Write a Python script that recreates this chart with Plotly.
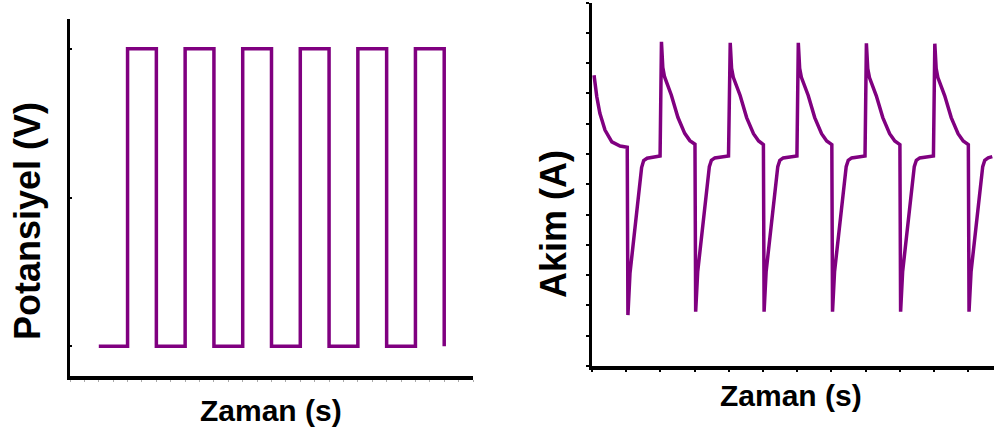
import plotly.graph_objects as go

# ---- Left panel: potential square wave (arbitrary units) ----
pot_time = [2, 4, 4, 6, 6, 8, 8, 10, 10, 12, 12, 14, 14, 16, 16, 18, 18, 20, 20, 22, 22, 24, 24, 26, 26]
pot_value = [0, 0, 2, 2, 0, 0, 2, 2, 0, 0, 2, 2, 0, 0, 2, 2, 0, 0, 2, 2, 0, 0, 2, 2, 0]

# ---- Right panel: current response (arbitrary units) ----
cur_time = [
    0.06, 0.14, 0.23, 0.38, 0.58, 0.82, 1.03,
    1.05, 1.11, 1.45, 1.51, 1.61, 1.99,
    2.03, 2.07, 2.12, 2.32, 2.51, 2.71, 2.86, 3.01,
    3.03, 3.09, 3.43, 3.49, 3.59, 3.99,
    4.04, 4.08, 4.13, 4.33, 4.52, 4.72, 4.87, 5.01,
    5.03, 5.09, 5.43, 5.49, 5.59, 5.99,
    6.03, 6.07, 6.12, 6.32, 6.51, 6.71, 6.86, 7.01,
    7.03, 7.09, 7.43, 7.49, 7.59, 7.98,
    8.02, 8.06, 8.11, 8.31, 8.50, 8.70, 8.85, 9.00,
    9.02, 9.08, 9.42, 9.48, 9.58, 9.98,
    10.02, 10.06, 10.11, 10.31, 10.50, 10.70, 10.85, 11.00,
    11.02, 11.08, 11.42, 11.48, 11.58, 11.70,
]
cur_value = [
    9.60, 8.89, 8.34, 7.79, 7.40, 7.26, 7.22,
    1.68, 3.06, 6.55, 6.78, 6.86, 6.93,
    10.70, 9.85, 9.55, 8.94, 8.21, 7.68, 7.44, 7.32,
    1.79, 3.12, 6.58, 6.79, 6.87, 6.93,
    10.67, 9.83, 9.53, 8.93, 8.20, 7.67, 7.43, 7.31,
    1.79, 3.12, 6.58, 6.79, 6.87, 6.93,
    10.67, 9.83, 9.53, 8.93, 8.20, 7.67, 7.43, 7.31,
    1.79, 3.12, 6.58, 6.79, 6.87, 6.93,
    10.65, 9.82, 9.52, 8.92, 8.20, 7.67, 7.43, 7.31,
    1.79, 3.12, 6.58, 6.79, 6.87, 6.93,
    10.64, 9.82, 9.52, 8.92, 8.20, 7.67, 7.43, 7.31,
    1.79, 3.12, 6.58, 6.79, 6.87, 6.91,
]

W, H = 994, 432
PURPLE = "#800080"

def px_x(p):
    return p / W

def px_y(p):
    return (H - p) / H

fig = go.Figure()
fig.add_trace(go.Scatter(x=pot_time, y=pot_value, mode="lines",
                         line=dict(color=PURPLE, width=3.5),
                         xaxis="x", yaxis="y", showlegend=False, hoverinfo="skip"))
fig.add_trace(go.Scatter(x=cur_time, y=cur_value, mode="lines",
                         line=dict(color=PURPLE, width=3.5),
                         xaxis="x2", yaxis="y2", showlegend=False, hoverinfo="skip"))

common = dict(showgrid=False, zeroline=False, showline=True, linecolor="black",
              linewidth=3.5, showticklabels=False, fixedrange=True)

fig.update_layout(
    width=W, height=H,
    margin=dict(l=0, r=0, t=0, b=0),
    paper_bgcolor="white", plot_bgcolor="white",
    showlegend=False,
    xaxis=dict(domain=[px_x(70), px_x(473)], range=[0, 28], anchor="y",
               ticks="outside", ticklen=2, tickwidth=1, tickcolor="#aaaaaa",
               tickmode="linear", tick0=0, dtick=1, **common),
    yaxis=dict(domain=[px_y(376), px_y(19)], range=[-0.2, 2.2], anchor="x",
               ticks="inside", ticklen=2, tickwidth=2, tickcolor="black",
               tickmode="linear", tick0=0, dtick=1, **common),
    xaxis2=dict(domain=[px_x(592), 1.0], range=[0, 11.75], anchor="y2",
                ticks="outside", ticklen=2, tickwidth=2, tickcolor="black",
                tickmode="linear", tick0=0, dtick=1, **common),
    yaxis2=dict(domain=[px_y(366), px_y(2.5)], range=[0, 12], anchor="x2",
                ticks="outside", ticklen=3, tickwidth=2, tickcolor="black",
                tickmode="linear", tick0=0, dtick=1, **common),
)

font_title = "Liberation Sans, Arial, sans-serif"
anns = [
    dict(text="<b>Potansiyel (V)</b>", x=px_x(27), y=px_y(221), textangle=-90,
         font=dict(size=36, color="black", family=font_title)),
    dict(text="<b>Akim (A)</b>", x=px_x(553), y=px_y(224), textangle=-90,
         font=dict(size=36, color="black", family=font_title)),
    dict(text="<b>Zaman (s)</b>", x=px_x(271), y=px_y(410), textangle=0,
         font=dict(size=30, color="black", family=font_title)),
    dict(text="<b>Zaman (s)</b>", x=px_x(791), y=px_y(395), textangle=0,
         font=dict(size=30, color="black", family=font_title)),
]
for a in anns:
    fig.add_annotation(xref="paper", yref="paper", showarrow=False,
                       xanchor="center", yanchor="middle", **a)

fig.write_html("out.html",
               config={"displayModeBar": False, "staticPlot": True},
               post_script="document.body.style.margin='0';document.body.style.overflow='hidden';")
